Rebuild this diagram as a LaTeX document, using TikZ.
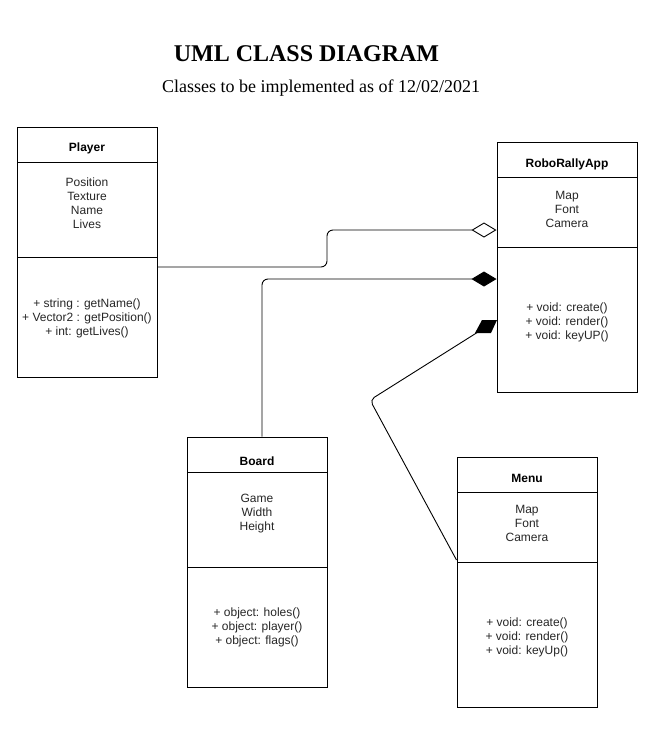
\documentclass[tikz,border=0pt]{standalone}
\usepackage{fontspec}
\setmainfont{Liberation Sans}
\newfontfamily\titlefont{Liberation Serif}
\usetikzlibrary{arrows.meta,calc}
\tikzset{
  classbox/.style={draw, line width=1pt, minimum width=140pt, inner sep=0pt},
  hdr/.style={font=\fontsize{12}{14}\selectfont\bfseries, inner sep=0pt},
  txt/.style={font=\fontsize{12}{14}\selectfont, align=center, inner sep=0pt, text=black!85},
  conn/.style={line width=0.9pt, rounded corners=6pt},
  sep/.style={line width=1pt}
}
\begin{document}
\begin{tikzpicture}[x=1pt,y=-1pt]
\useasboundingbox (0,0) rectangle (661,732);
% title
\node[font=\titlefont\fontsize{24}{28}\selectfont\bfseries, inner sep=0pt] (title) at (306.5,53.5) {UML CLASS DIAGRAM};
\node[font=\titlefont\fontsize{18}{22}\selectfont, inner sep=0pt] (subtitle) at (321,88) {Classes to be implemented as of 12/02/2021};

% Player
\node[classbox, minimum height=250pt] (player) at (87,252) {};
\draw[sep] (17,162) -- (157,162);
\draw[sep] (17,257) -- (157,257);
\node[hdr] (playerN) at (87,148) {Player};
\node[txt] (playerA) at (87,203.5) {Position\\Texture\\Name\\Lives};
\node[txt] (playerM) at (87,318) {+ string : getName()\\+ Vector2 : getPosition()\\+ int: getLives()};

% RoboRallyApp
\node[classbox, minimum height=250pt] (app) at (567,267) {};
\draw[sep] (497,177) -- (637,177);
\draw[sep] (497,247) -- (637,247);
\node[hdr] (appN) at (567,164) {RoboRallyApp};
\node[txt] (appA) at (567,209.5) {Map\\Font\\Camera};
\node[txt] (appM) at (567,322) {+ void: create()\\+ void: render()\\+ void: keyUP()};

% Board
\node[classbox, minimum height=250pt] (board) at (257,562) {};
\draw[sep] (187,472) -- (327,472);
\draw[sep] (187,567) -- (327,567);
\node[hdr] (boardN) at (257,461) {Board};
\node[txt] (boardA) at (257,514) {Game\\Width\\Height};
\node[txt] (boardM) at (257,627.5) {+ object: holes()\\+ object: player()\\+ object: flags()};

% Menu
\node[classbox, minimum height=250pt] (menu) at (527,582) {};
\draw[sep] (457,492) -- (597,492);
\draw[sep] (457,562) -- (597,562);
\node[hdr] (menuN) at (527,478) {Menu};
\node[txt] (menuA) at (527,523.5) {Map\\Font\\Camera};
\node[txt] (menuM) at (527,637) {+ void: create()\\+ void: render()\\+ void: keyUp()};

% connectors
\coordinate (bend1) at (327,248);
\draw[conn, -{Diamond[open, length=25pt, width=15pt, line width=0.9pt]}]
  ([yshift=-15pt]player.east) -| (bend1) |- ([yshift=37pt]app.west);
\draw[conn, -{Diamond[length=25pt, width=15pt]}]
  ([xshift=5pt]board.north) |- ([yshift=-12pt]app.west);
\coordinate (bend3) at (370,400);
\coordinate (tip3) at (478,332);
\draw[conn, rounded corners=5pt] ([yshift=22pt]menu.west) -- (bend3) -- (tip3);
\fill (482,320) -- (497,320) -- (491,333) -- (475,333) -- cycle;
\end{tikzpicture}
\end{document}
